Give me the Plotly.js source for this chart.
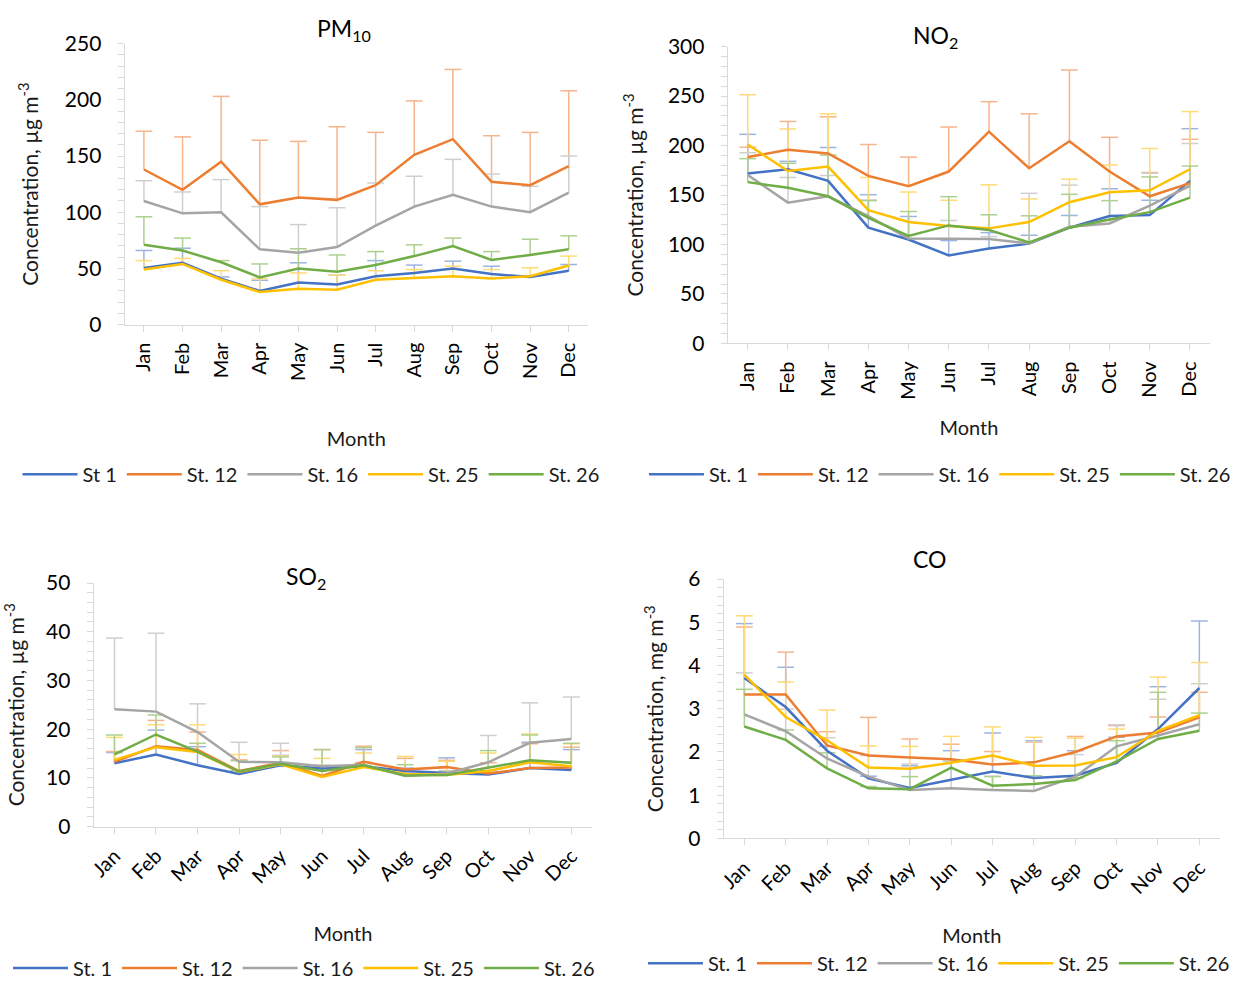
<!DOCTYPE html>
<html><head><meta charset="utf-8">
<script src="https://cdn.plot.ly/plotly-3.0.1.min.js"></script>
<style>html,body{margin:0;padding:0;background:#fff}#chart{width:1236px;height:988px}</style>
</head><body><div id="chart"></div>
<script>
// ---------- DATA ----------
const months = ['Jan','Feb','Mar','Apr','May','Jun','Jul','Aug','Sep','Oct','Nov','Dec'];
const pm10Names = ['St 1','St. 12','St. 16','St. 25','St. 26'];
const stationNames = ['St. 1','St. 12','St. 16','St. 25','St. 26'];

// PM10 (µg m-3): mean and +SD
const pm10_st1  = [50.5, 55, 41, 30, 37.4, 35.7, 43, 46, 50, 45, 42.4, 48];
const pm10_st12 = [138, 120, 145, 107, 113, 111, 124, 151, 165, 127, 124, 141];
const pm10_st16 = [110, 99, 100, 67, 64, 69, 88, 105, 115.5, 105, 100, 117.5];
const pm10_st25 = [49, 54, 40, 29, 32, 31, 40, 41.5, 43, 41, 43, 52.6];
const pm10_st26 = [71, 66, 55.5, 42, 50, 47, 53, 61, 70, 57.6, 62, 67];
const pm10_st1_sd  = [15.5, 13, 1.5, 9.5, 17.6, 8.3, 14, 7, 6.5, 7, 1.1, 5.5];
const pm10_st12_sd = [34, 47, 58, 57, 50, 65, 47, 48, 62, 41, 47, 67];
const pm10_st16_sd = [18, 19, 29, 38, 25, 35, 38, 27, 31.5, 29, 23, 32.5];
const pm10_st25_sd = [8, 5, 8, 12, 14, 13, 8, 7.5, 9, 8, 7.6, 8.4];
const pm10_st26_sd = [25, 11, 1.5, 12, 17.5, 15, 12, 10, 7, 7.4, 14, 12];

// NO2 (µg m-3)
const no2_st1  = [171.7, 176, 164.3, 117, 105, 89, 96, 101, 117, 128.7, 129.7, 164.3];
const no2_st12 = [188.3, 195.7, 192, 169.3, 159, 173.7, 214, 177, 204.3, 173.7, 148.7, 162];
const no2_st16 = [170.3, 142.3, 148.7, 128.7, 106, 106, 105.5, 101, 118, 121.3, 139.3, 159.3];
const no2_st25 = [201, 174.3, 178.7, 134.7, 122.7, 118.7, 116.3, 122.7, 142.7, 152.7, 154.7, 176];
const no2_st26 = [163, 157.3, 148.7, 127, 108.7, 119.3, 114.7, 102, 117, 125.3, 132.7, 147.3];
const no2_st1_sd  = [39.6, 8, 33.7, 33.3, 23.3, 15, 16, 8.3, 12.3, 27.6, 15, 52.7];
const no2_st12_sd = [10, 28.6, 37, 31.7, 29.3, 45, 30.3, 55, 72, 34.6, 24, 44.3];
const no2_st16_sd = [22.4, 25.4, 21, 16.3, 4, 18.3, 2.5, 50.7, 42, 3.7, 32.7, 42.7];
const no2_st25_sd = [50.3, 42.4, 53.3, 33, 30.3, 26, 44, 23.3, 23.3, 27.6, 42.3, 58.3];
const no2_st26_sd = [23.7, 24.7, 41.6, 17.3, 24.6, 29, 15.3, 27, 33.7, 19, 35.6, 32];

// SO2 (µg m-3)
const so2_st1  = [13.0, 14.8, 12.6, 10.8, 12.6, 11.9, 12.4, 11.4, 11.0, 10.7, 12.0, 11.6];
const so2_st12 = [13.3, 16.5, 15.7, 11.4, 13.1, 10.4, 13.3, 11.7, 12.2, 10.9, 12.0, 12.1];
const so2_st16 = [24.1, 23.6, 19.4, 13.3, 13.2, 12.4, 12.7, 10.4, 10.9, 13.2, 17.2, 18.0];
const so2_st25 = [13.7, 16.3, 15.3, 11.2, 12.8, 10.2, 12.2, 10.8, 10.6, 11.4, 13.2, 12.4];
const so2_st26 = [14.8, 18.9, 15.4, 11.3, 12.9, 11.4, 12.6, 10.5, 10.6, 12.1, 13.6, 13.1];
const so2_st1_sd  = [2.2, 5.0, 3.8, 0.7, 2.0, 0.6, 3.4, 0.6, 3.1, 0.8, 5.3, 4.2];
const so2_st12_sd = [2.1, 5.3, 3.7, 2.3, 2.5, 5.4, 3.2, 2.3, 1.4, 2.2, 5.0, 4.2];
const so2_st16_sd = [14.6, 16.1, 5.8, 4.0, 3.9, 0.2, 0.5, 0.6, 0.6, 5.5, 8.2, 8.6];
const so2_st25_sd = [4.6, 4.6, 5.6, 3.6, 1.7, 3.8, 2.9, 3.6, 2.8, 3.7, 5.8, 4.6];
const so2_st26_sd = [4.0, 4.0, 1.7, 2.2, 1.4, 4.4, 3.6, 2.2, 0.6, 3.5, 5.2, 4.0];

// CO (mg m-3)
const co_st1  = [3.71, 3.04, 2.03, 1.39, 1.17, 1.36, 1.55, 1.40, 1.45, 1.75, 2.53, 3.48];
const co_st12 = [3.33, 3.33, 2.15, 1.92, 1.87, 1.83, 1.71, 1.76, 2.00, 2.36, 2.45, 2.80];
const co_st16 = [2.87, 2.48, 1.85, 1.43, 1.12, 1.16, 1.12, 1.10, 1.43, 2.13, 2.38, 2.64];
const co_st25 = [3.79, 2.81, 2.27, 1.64, 1.61, 1.75, 1.92, 1.68, 1.69, 1.88, 2.49, 2.85];
const co_st26 = [2.59, 2.28, 1.62, 1.16, 1.14, 1.64, 1.22, 1.26, 1.35, 1.78, 2.30, 2.49];
const co_st1_sd  = [1.26, 0.92, 0.10, 0.05, 0.51, 0.67, 0.89, 0.86, 0.58, 0.59, 0.98, 1.55];
const co_st12_sd = [1.56, 0.98, 0.32, 0.88, 0.43, 0.35, 0.30, 0.47, 0.36, 0.25, 0.36, 0.58];
const co_st16_sd = [0.96, 0.51, 0.48, 0.49, 0.60, 0.62, 0.32, 1.14, 0.51, 0.50, 0.84, 0.94];
const co_st25_sd = [1.36, 0.81, 0.70, 0.50, 0.52, 0.61, 0.66, 0.66, 0.63, 0.65, 1.24, 1.22];
const co_st26_sd = [0.86, 0.23, 0.36, 0.04, 0.29, 0.18, 0.21, 0.19, 0.05, 0.48, 1.08, 0.41];

// ---------- STYLE ----------
const FONT = 'Lato, "Open Sans", sans-serif';
const lineColors = ['#4472C4','#ED7D31','#A5A5A5','#FFC000','#70AD47'];
const errColors  = ['#9DB4E0','#F5B58C','#CFCFCF','#FFDB75','#AED08F'];
const AX = '#D9D9D9';

const panels = [
  {names: pm10Names, means:[pm10_st1,pm10_st12,pm10_st16,pm10_st25,pm10_st26],
   sds:[pm10_st1_sd,pm10_st12_sd,pm10_st16_sd,pm10_st25_sd,pm10_st26_sd]},
  {names: stationNames, means:[no2_st1,no2_st12,no2_st16,no2_st25,no2_st26],
   sds:[no2_st1_sd,no2_st12_sd,no2_st16_sd,no2_st25_sd,no2_st26_sd]},
  {names: stationNames, means:[so2_st1,so2_st12,so2_st16,so2_st25,so2_st26],
   sds:[so2_st1_sd,so2_st12_sd,so2_st16_sd,so2_st25_sd,so2_st26_sd]},
  {names: stationNames, means:[co_st1,co_st12,co_st16,co_st25,co_st26],
   sds:[co_st1_sd,co_st12_sd,co_st16_sd,co_st25_sd,co_st26_sd]}
];

const W = 1236, H = 988;
const px = v => v / W, py = v => 1 - v / H;

const traces = [];
panels.forEach((p, k) => {
  const xa = k === 0 ? 'x' : 'x' + (k + 1);
  const ya = k === 0 ? 'y' : 'y' + (k + 1);
  const lg = k === 0 ? 'legend' : 'legend' + (k + 1);
  // error bars (upper only) – stems via error_y, caps via line-ew markers
  p.means.forEach((m, i) => {
    const sd = p.sds[i];
    traces.push({
      type:'scatter', mode:'markers', x: months, y: m.map((v, j) => v + sd[j]),
      xaxis: xa, yaxis: ya, showlegend:false, hoverinfo:'skip', cliponaxis:false,
      marker:{symbol:'line-ew', size:12, color: errColors[i], line:{width:1.5, color: errColors[i]}},
      error_y:{type:'data', symmetric:false, array: m.map(() => 0), arrayminus: sd,
               width:0, thickness:1.5, color: errColors[i]}
    });
  });
  p.means.forEach((m, i) => {
    traces.push({
      type:'scatter', mode:'lines', name: p.names[i], x: months, y: m,
      xaxis: xa, yaxis: ya, legend: lg,
      line:{color: lineColors[i], width:2.5}
    });
  });
});

function xAxis(l, r, anchor, angle, standoff) {
  return {domain:[px(l), px(r)], anchor, type:'category', range:[-0.5, 11.5],
    showline:true, linecolor:AX, linewidth:1, ticks:'outside', ticklen:6, tickcolor:AX,
    tickangle:angle, tickfont:{size:20, color:'#000'}, showgrid:false, zeroline:false,
    ticklabelstandoff: 3,
    title:{text:'Month', font:{size:20, color:'#1a1a1a'}, standoff}};
}
function yAxis(top, bot, anchor, max, dtick, minor, unit, standoff) {
  return {domain:[py(bot), py(top)], anchor, range:[0, max], dtick,
    showline:true, linecolor:AX, linewidth:1, ticks:'outside', ticklen:6, tickcolor:AX,
    minor:{dtick:minor, ticks:'outside', ticklen:6, tickcolor:AX, showgrid:false},
    tickfont:{size:21, color:'#000'}, showgrid:false, zeroline:false, ticklabelstandoff:12,
    title:{text:'Concentration, ' + unit + ' m<sup>-3</sup>', font:{size:21, color:'#1a1a1a'}, standoff}};
}
function legend(cx, cy) {
  return {orientation:'h', x:px(cx), y:py(cy), xanchor:'center', yanchor:'middle',
    font:{size:20, color:'#1a1a1a'}, bgcolor:'rgba(0,0,0,0)', itemwidth:55, itemclick:false};
}
function title(text, cx, cy) {
  return {text, x:px(cx), y:py(cy), xref:'paper', yref:'paper', showarrow:false,
    xanchor:'center', yanchor:'middle', font:{size:23, color:'#000', family:FONT}};
}

const layout = {
  width:W, height:H, margin:{l:0, r:0, t:0, b:0}, showlegend:true,
  paper_bgcolor:'#fff', plot_bgcolor:'#fff', font:{family:FONT, color:'#000'},
  xaxis:  xAxis(125, 590, 'y', -90, 52),
  yaxis:  yAxis(44, 328, 'x', 250, 50, 10, 'µg', 20),
  xaxis2: xAxis(730, 1214, 'y2', -90, 22),
  yaxis2: yAxis(47, 347, 'x2', 300, 50, 10, 'µg', 18),
  xaxis3: xAxis(94, 594, 'y3', -45, 40),
  yaxis3: yAxis(589, 835, 'x3', 50, 10, 2, 'µg', 20),
  xaxis4: xAxis(726, 1224, 'y4', -45, 30),
  yaxis4: yAxis(585, 847, 'x4', 6, 1, 0.2, 'mg', 18),
  legend:  legend(312, 479),
  legend2: legend(943, 479),
  legend3: legend(305, 978),
  legend4: legend(942, 973),
  annotations:[
    title('PM<sub>10</sub>', 345, 30),
    title('NO<sub>2</sub>', 939, 37),
    title('SO<sub>2</sub>', 307, 583),
    title('CO', 933, 565)
  ]
};

Plotly.newPlot('chart', traces, layout, {staticPlot:true, displayModeBar:false});
</script></body></html>
